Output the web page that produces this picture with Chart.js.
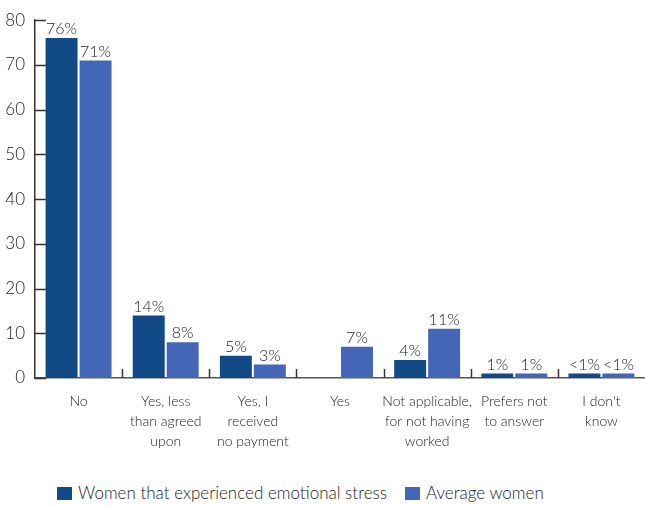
<!DOCTYPE html>
<html>
<head>
<meta charset="utf-8">
<script src="https://cdn.jsdelivr.net/npm/chart.js@4"></script>
<style>
  html, body { margin: 0; padding: 0; background: #fff; }
  #wrap { position: relative; width: 645px; height: 506px; }
  #box { position: absolute; left: 0; top: 0; width: 645px; height: 470px; }
  #legend { position: absolute; left: 57px; top: 483px; height: 20px; line-height: 20px; font-family: Lato, sans-serif; font-weight: 300; font-size: 17px; color: #222; white-space: nowrap; }
  #legend span.item { display: inline-flex; align-items: center; margin-right: 18px; }
  #legend span.sw { display: inline-block; width: 15px; height: 13px; margin-right: 6px; }
</style>
</head>
<body>
<div id="wrap">
  <div id="box"><canvas id="c"></canvas></div>
  <div id="legend"></div>
</div>
<script>
const categories = [
  ["No"],
  ["Yes, less", "than agreed", "upon"],
  ["Yes, I", "received", "no payment"],
  ["Yes"],
  ["Not applicable,", "for not having", "worked"],
  ["Prefers not", "to answer"],
  ["I don't", "know"]
];
const seriesNames = ["Women that experienced emotional stress", "Average women"];
const stressValues = [76, 14, 5, null, 4, 1, 1];
const averageValues = [71, 8, 3, 7, 11, 1, 1];
const stressLabels = ["76%", "14%", "5%", "", "4%", "1%", "<1%"];
const averageLabels = ["71%", "8%", "3%", "7%", "11%", "1%", "<1%"];
const yTicks = [0, 10, 20, 30, 40, 50, 60, 70, 80];

const colors = ["#124a88", "#4366b6"];
const valueLabels = [stressLabels, averageLabels];
const FONT = 'Lato, sans-serif';
const TEXT = '#222';

const innerTicks = {
  id: 'innerTicks',
  beforeDatasetsDraw(chart) {
    const ctx = chart.ctx;
    const x = chart.scales.x, y = chart.scales.y;
    const area = chart.chartArea;
    ctx.save();
    ctx.strokeStyle = '#333';
    ctx.lineWidth = 1.5;
    yTicks.forEach(v => {
      const py = Math.round(y.getPixelForValue(v)) + 0.5;
      ctx.beginPath();
      ctx.moveTo(area.left, py);
      ctx.lineTo(area.left + 11, py);
      ctx.stroke();
    });
    for (let i = 1; i < categories.length; i++) {
      const px = Math.round((x.getPixelForValue(i - 1) + x.getPixelForValue(i)) / 2) + 0.5;
      ctx.beginPath();
      ctx.moveTo(px, area.bottom);
      ctx.lineTo(px, area.bottom - 9);
      ctx.stroke();
    }
    ctx.restore();
  }
};

const barLabels = {
  id: 'barLabels',
  afterDatasetsDraw(chart) {
    const ctx = chart.ctx;
    ctx.save();
    ctx.font = '300 16px ' + FONT;
    ctx.fillStyle = TEXT;
    ctx.textAlign = 'center';
    ctx.textBaseline = 'bottom';
    chart.data.datasets.forEach((ds, di) => {
      const meta = chart.getDatasetMeta(di);
      meta.data.forEach((bar, i) => {
        const txt = valueLabels[di][i];
        if (!txt || ds.data[i] == null) return;
        ctx.fillText(txt, bar.x, bar.y - 1);
      });
    });
    ctx.restore();
  }
};

const chart = new Chart(document.getElementById('c'), {
  type: 'bar',
  data: {
    labels: categories,
    datasets: [
      { label: seriesNames[0], data: stressValues, backgroundColor: colors[0] },
      { label: seriesNames[1], data: averageValues, backgroundColor: colors[1] }
    ]
  },
  options: {
    responsive: true,
    maintainAspectRatio: false,
    animation: false,
    layout: { padding: { top: 10, right: 0, left: 0, bottom: 0 } },
    datasets: { bar: { categoryPercentage: 0.78, barPercentage: 0.94 } },
    plugins: { legend: { display: false }, tooltip: { enabled: false } },
    scales: {
      x: {
        grid: { display: false, drawTicks: false },
        border: { display: true, color: '#555', width: 1.5 },
        ticks: { color: TEXT, font: { family: FONT, size: 14, weight: 300, lineHeight: 1.4 }, padding: 14, maxRotation: 0, autoSkip: false },
        afterFit(s) { s.height = 92; }
      },
      y: {
        min: 0, max: 80,
        grid: { display: false, drawTicks: false },
        border: { display: true, color: '#333', width: 1.5 },
        ticks: { stepSize: 10, color: TEXT, font: { family: FONT, size: 17, weight: 300 }, padding: 10 },
        afterFit(s) { s.width = 35; }
      }
    }
  },
  plugins: [innerTicks, barLabels]
});

const lg = document.getElementById('legend');
seriesNames.forEach((n, i) => {
  const item = document.createElement('span');
  item.className = 'item';
  const sw = document.createElement('span');
  sw.className = 'sw';
  sw.style.background = colors[i];
  item.appendChild(sw);
  item.appendChild(document.createTextNode(n));
  lg.appendChild(item);
});
</script>
</body>
</html>
